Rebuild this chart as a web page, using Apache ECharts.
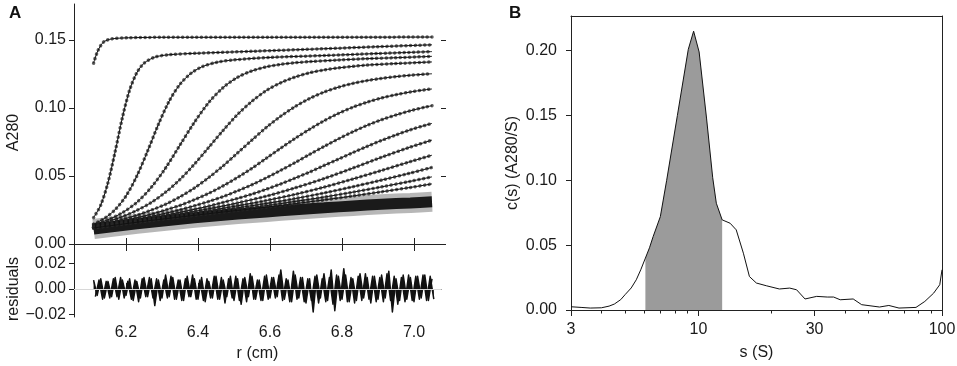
<!DOCTYPE html>
<html>
<head>
<meta charset="utf-8">
<script src="https://cdn.jsdelivr.net/npm/echarts@6.0.0/dist/echarts.min.js"></script>
<style>
  html, body { margin: 0; padding: 0; background: #fff; }
  #chart { width: 957px; height: 366px; }
</style>
</head>
<body>
<div id="chart"></div>
<script>
// ---- panel A: radial scans (r in cm, A280) ----
const rTicks = [6.2, 6.4, 6.6, 6.8, 7.0];
const a280Ticks = [0, 0.05, 0.1, 0.15];
const residualTicks = [-0.02, 0, 0.02];

// slow / non-sedimenting floor that all late scans collapse onto
const baseline = [[6.11, 0.011], [6.19, 0.0136], [6.27, 0.016], [6.35, 0.0182], [6.43, 0.0202], [6.51, 0.022],
  [6.59, 0.0236], [6.67, 0.0252], [6.75, 0.0266], [6.83, 0.028], [6.91, 0.0292], [6.99, 0.0302], [7.05, 0.031]];

// fitted boundaries, one per scan
const fitScans = [
  [[6.11, 0.133], [6.12, 0.141], [6.13, 0.146], [6.14, 0.149], [6.16, 0.1508], [6.2, 0.1516], [6.3, 0.152], [6.6, 0.152], [7.05, 0.1522]],
  [[6.11, 0.0194], [6.13, 0.0287], [6.15, 0.0451], [6.17, 0.068], [6.19, 0.0929], [6.21, 0.1131], [6.23, 0.1259], [6.25, 0.1329], [6.28, 0.1374], [6.32, 0.1392], [6.4, 0.1403], [6.55, 0.1417], [6.75, 0.1436], [6.9, 0.1451], [7.05, 0.1465]],
  [[6.11, 0.0146], [6.14, 0.0188], [6.17, 0.0253], [6.2, 0.0353], [6.23, 0.0499], [6.26, 0.0683], [6.29, 0.0879], [6.32, 0.1051], [6.35, 0.1175], [6.38, 0.1254], [6.41, 0.1302], [6.45, 0.1335], [6.5, 0.1354], [6.6, 0.1372], [6.75, 0.1386], [6.9, 0.1401], [7.05, 0.1415]],
  [[6.11, 0.0142], [6.15, 0.0178], [6.19, 0.023], [6.23, 0.0306], [6.27, 0.0416], [6.31, 0.0559], [6.35, 0.0728], [6.39, 0.0895], [6.43, 0.1041], [6.47, 0.1151], [6.51, 0.1226], [6.55, 0.1273], [6.59, 0.1303], [6.63, 0.1321], [6.67, 0.1333], [6.71, 0.1341], [6.79, 0.1353], [6.87, 0.1363], [6.95, 0.137], [7.05, 0.138]],
  [[6.11, 0.0139], [6.15, 0.0166], [6.19, 0.0201], [6.23, 0.0247], [6.27, 0.0305], [6.31, 0.0381], [6.35, 0.0475], [6.39, 0.0587], [6.43, 0.0711], [6.47, 0.0836], [6.51, 0.0953], [6.55, 0.105], [6.59, 0.1129], [6.63, 0.1186], [6.67, 0.1228], [6.71, 0.1259], [6.75, 0.128], [6.79, 0.1295], [6.83, 0.1306], [6.87, 0.1316], [6.95, 0.1327], [7.05, 0.1339]],
  [[6.11, 0.0133], [6.15, 0.0155], [6.19, 0.0181], [6.23, 0.0211], [6.27, 0.0249], [6.31, 0.0292], [6.35, 0.0347], [6.39, 0.0412], [6.43, 0.0489], [6.47, 0.0575], [6.51, 0.067], [6.55, 0.0765], [6.59, 0.0858], [6.63, 0.094], [6.67, 0.1011], [6.71, 0.107], [6.75, 0.1117], [6.79, 0.1153], [6.83, 0.1181], [6.87, 0.1202], [6.91, 0.1218], [6.95, 0.1231], [6.99, 0.1241], [7.03, 0.1249], [7.05, 0.1252]],
  [[6.11, 0.0129], [6.15, 0.0148], [6.19, 0.017], [6.23, 0.0193], [6.27, 0.0219], [6.31, 0.025], [6.35, 0.0284], [6.39, 0.0326], [6.43, 0.0373], [6.47, 0.0428], [6.51, 0.049], [6.55, 0.0557], [6.59, 0.0631], [6.63, 0.0705], [6.67, 0.0777], [6.71, 0.0844], [6.75, 0.0906], [6.79, 0.096], [6.83, 0.1006], [6.87, 0.1043], [6.91, 0.1074], [6.95, 0.1098], [6.99, 0.1118], [7.03, 0.1134], [7.05, 0.114]],
  [[6.11, 0.0126], [6.15, 0.0144], [6.19, 0.0162], [6.23, 0.0182], [6.27, 0.0203], [6.31, 0.0226], [6.35, 0.0252], [6.39, 0.0281], [6.43, 0.0313], [6.47, 0.0349], [6.51, 0.0391], [6.55, 0.0436], [6.59, 0.0487], [6.63, 0.0542], [6.67, 0.0599], [6.71, 0.0659], [6.75, 0.0717], [6.79, 0.0773], [6.83, 0.0825], [6.87, 0.0873], [6.91, 0.0914], [6.95, 0.0949], [6.99, 0.098], [7.03, 0.1006], [7.05, 0.1017]],
  [[6.11, 0.0124], [6.15, 0.014], [6.19, 0.0158], [6.23, 0.0175], [6.27, 0.0193], [6.31, 0.0212], [6.35, 0.0233], [6.39, 0.0255], [6.43, 0.0279], [6.47, 0.0306], [6.51, 0.0335], [6.55, 0.0367], [6.59, 0.0403], [6.63, 0.0442], [6.67, 0.0485], [6.71, 0.0529], [6.75, 0.0577], [6.79, 0.0624], [6.83, 0.0672], [6.87, 0.0718], [6.91, 0.0762], [6.95, 0.0802], [6.99, 0.084], [7.03, 0.0872], [7.05, 0.0887]],
  [[6.11, 0.0122], [6.19, 0.0154], [6.27, 0.0187], [6.35, 0.0221], [6.43, 0.0259], [6.51, 0.0302], [6.59, 0.0352], [6.67, 0.0413], [6.75, 0.0481], [6.83, 0.0558], [6.91, 0.0638], [6.99, 0.0713], [7.05, 0.0764]],
  [[6.11, 0.0121], [6.19, 0.0152], [6.27, 0.0182], [6.35, 0.0213], [6.43, 0.0245], [6.51, 0.0281], [6.59, 0.032], [6.67, 0.0365], [6.75, 0.0418], [6.83, 0.0478], [6.91, 0.0541], [6.99, 0.0606], [7.05, 0.0653]],
  [[6.11, 0.012], [6.19, 0.0149], [6.27, 0.0178], [6.35, 0.0207], [6.43, 0.0236], [6.51, 0.0266], [6.59, 0.0298], [6.67, 0.0334], [6.75, 0.0375], [6.83, 0.0421], [6.91, 0.047], [6.99, 0.0522], [7.05, 0.0563]],
  [[6.11, 0.0119], [6.19, 0.0147], [6.27, 0.0175], [6.35, 0.0202], [6.43, 0.0229], [6.51, 0.0255], [6.59, 0.0282], [6.67, 0.0313], [6.75, 0.0345], [6.83, 0.0381], [6.91, 0.042], [6.99, 0.0461], [7.05, 0.0494]],
  [[6.11, 0.0118], [6.19, 0.0146], [6.27, 0.0173], [6.35, 0.0198], [6.43, 0.0223], [6.51, 0.0247], [6.59, 0.0271], [6.67, 0.0297], [6.75, 0.0324], [6.83, 0.0353], [6.91, 0.0384], [6.99, 0.0416], [7.05, 0.0442]]
];

// residuals of two interleaved scans, sampled every 0.01 cm
const residualStep = 0.01;
const residualStartA = 6.11;
const residualsA = [0.007, -0.005, 0.008, -0.007, 0.006, -0.006, 0.009, -0.008, 0.007, -0.005,
  0.008, -0.009, 0.006, -0.007, 0.009, -0.006, 0.008, -0.013, 0.007, -0.007,
  0.011, -0.006, 0.009, -0.008, 0.007, -0.009, 0.010, -0.006, 0.008, -0.008,
  0.009, -0.010, 0.006, -0.007, 0.010, -0.008, 0.007, -0.006, 0.010, -0.009,
  0.008, -0.012, 0.009, -0.006, 0.010, -0.008, 0.007, -0.009, 0.011, -0.007,
  0.009, -0.006, 0.015, -0.008, 0.007, -0.010, 0.011, -0.007, 0.009, -0.011,
  0.008, -0.018, 0.011, -0.007, 0.012, -0.009, 0.015, -0.017, 0.010, -0.008,
  0.011, -0.010, 0.008, -0.009, 0.012, -0.007, 0.009, -0.011, 0.010, -0.008,
  0.011, -0.007, 0.014, -0.018, 0.008, -0.009, 0.011, -0.008, 0.009, -0.010,
  0.010, -0.007, 0.011, -0.009, 0.008];
const residualStartB = 6.115;
const residualsB = [-0.006, 0.007, -0.008, 0.006, -0.007, 0.008, -0.006, 0.009, -0.007, 0.006,
  -0.008, 0.007, -0.010, 0.008, -0.006, 0.009, -0.007, 0.008, -0.009, 0.007,
  -0.007, 0.010, -0.008, 0.007, -0.009, 0.008, -0.006, 0.011, -0.008, 0.007,
  -0.009, 0.008, -0.007, 0.010, -0.008, 0.009, -0.011, 0.008, -0.007, 0.010,
  -0.009, 0.008, -0.010, 0.012, -0.008, 0.007, -0.009, 0.010, -0.008, 0.009,
  -0.007, 0.011, -0.009, 0.008, -0.010, 0.014, -0.008, 0.009, -0.010, 0.008,
  -0.009, 0.010, -0.011, 0.008, -0.010, 0.009, -0.012, 0.011, -0.009, 0.016,
  -0.010, 0.009, -0.011, 0.010, -0.009, 0.012, -0.008, 0.010, -0.010, 0.009,
  -0.010, 0.012, -0.009, 0.010, -0.012, 0.009, -0.010, 0.011, -0.009, 0.010,
  -0.008, 0.011, -0.009, 0.010, -0.008];

// ---- panel B: c(s) distribution ----
const sValues = [3.0, 3.3, 3.6, 4.0, 4.3, 4.52, 4.8, 5.0, 5.3, 5.56,
  5.8, 6.06, 6.3, 6.52, 6.98, 7.41, 8.2, 9.09, 9.56, 10.07,
  10.8, 11.45, 11.85, 12.52, 13.5, 14.3, 15.3, 16.2, 17.3, 19.0,
  21.5, 23.7, 25.3, 27.4, 30.6, 33.8, 35.9, 38.2, 43.2, 46.8,
  55.4, 60.5, 66.6, 78.2, 85.0, 92.4, 97.9, 100];
const cValues = [0.0025, 0.002, 0.0015, 0.0017, 0.003, 0.0046, 0.008, 0.0118, 0.017, 0.0233,
  0.031, 0.040, 0.048, 0.0566, 0.072, 0.100, 0.150, 0.201, 0.215, 0.199,
  0.148, 0.102, 0.0823, 0.0695, 0.0669, 0.0618, 0.0438, 0.0258, 0.0208, 0.0187,
  0.0162, 0.0169, 0.0156, 0.0085, 0.0105, 0.010, 0.010, 0.0079, 0.0085, 0.0041,
  0.0023, 0.0035, 0.0015, 0.002, 0.0066, 0.013, 0.0195, 0.031];
const shadeFrom = 6.06;
const shadeTo = 12.52;
const sMajor = [3, 10, 30, 100];
const sMinor = [3, 4, 5, 6, 7, 8, 9, 10, 20, 30, 40, 50, 60, 70, 80, 90, 100];
const cTicks = [0, 0.05, 0.1, 0.15, 0.2];

const FONT = "Liberation Sans";
const INK = "#1a1a1a";

const chart = echarts.init(document.getElementById("chart"));

const residualDataA = residualsA.map((v, i) => [residualStartA + i * residualStep, v]);
const residualDataB = residualsB.map((v, i) => [residualStartB + i * residualStep, v]);
const sedData = sValues.map((s, i) => [s, cValues[i]]);
const shadeData = sedData.filter((d) => d[0] >= shadeFrom && d[0] <= shadeTo);

const fmt2 = (v) => Number(v).toFixed(2).replace("-", "\u2212");
const labelStyle = { color: INK, fontFamily: FONT, fontSize: 16 };
const nameStyle = { color: INK, fontFamily: FONT, fontSize: 16 };
const lineStyle = { color: "#222", width: 1 };

const scanSeries = [];
fitScans.forEach((scan) => {
  // raw points scattered along each fit
  scanSeries.push({
    type: "line", xAxisIndex: 0, yAxisIndex: 0, data: scan,
    smooth: 0.3, showSymbol: false, silent: true,
    lineStyle: { color: "rgba(40,40,40,0.75)", width: 3.5, type: [0.1, 4.6], cap: "round" },
  });
  scanSeries.push({
    type: "line", xAxisIndex: 0, yAxisIndex: 0, data: scan,
    smooth: 0.3, showSymbol: false, silent: true,
    lineStyle: { color: "#111", width: 1 },
  });
});

const residualSeries = [residualDataA, residualDataB].map((data) => ({
  type: "line", xAxisIndex: 2, yAxisIndex: 2, data,
  showSymbol: false, silent: true,
  lineStyle: { color: "#111", width: 1.5, join: "round" },
  areaStyle: { color: "#111", opacity: 1 },
  z: 3,
}));
residualSeries[0].markLine = {
  silent: true, symbol: "none", label: { show: false },
  lineStyle: { color: "#d8d8d8", width: 1, type: "solid" },
  data: [{ yAxis: 0 }],
};

const option = {
  animation: false,
  backgroundColor: "#fff",
  title: [
    { text: "A", left: 4, top: 0, textStyle: { fontFamily: FONT, fontSize: 17, fontWeight: "bold", color: "#111" } },
    { text: "B", left: 504, top: 0, textStyle: { fontFamily: FONT, fontSize: 17, fontWeight: "bold", color: "#111" } },
  ],
  grid: [
    { left: 74, top: 4, width: 367, height: 257, containLabel: false, outerBoundsMode: "none" },
    { left: 74, top: 261, width: 367, height: 56, containLabel: false, outerBoundsMode: "none" },
    { left: 571, top: 16, width: 371, height: 294, containLabel: false, outerBoundsMode: "none" },
  ],
  xAxis: [
    {
      gridIndex: 0, type: "value", min: 6.0556, max: 7.075, position: "bottom",
      axisLine: { show: true, lineStyle }, splitLine: { show: false },
      axisTick: { show: true, inside: true, length: 6, customValues: rTicks, lineStyle },
      axisLabel: { show: false },
    },
    {
      gridIndex: 0, type: "value", min: 6.0556, max: 7.075, position: "top",
      axisLine: { show: true, lineStyle }, splitLine: { show: false },
      axisTick: { show: true, inside: true, length: 7, customValues: rTicks, lineStyle },
      axisLabel: { show: false },
    },
    {
      gridIndex: 1, type: "value", min: 6.0556, max: 7.075, position: "bottom",
      axisLine: { show: true, lineStyle }, splitLine: { show: false },
      axisTick: { show: true, inside: true, length: 6, customValues: rTicks, lineStyle },
      axisLabel: { show: true, margin: 8, customValues: rTicks, formatter: (v) => Number(v).toFixed(1), ...labelStyle },
      name: "r (cm)", nameLocation: "middle", nameGap: 29, nameTextStyle: nameStyle,
    },
    {
      gridIndex: 2, type: "log", logBase: 10, min: 3, max: 100, position: "bottom",
      axisLine: { show: true, lineStyle }, splitLine: { show: false },
      axisTick: { show: true, inside: false, length: 3.5, customValues: sMinor, lineStyle },
      axisLabel: { show: false },
    },
    {
      gridIndex: 2, type: "log", logBase: 10, min: 3, max: 100, position: "bottom",
      axisLine: { show: true, lineStyle }, splitLine: { show: false },
      axisTick: { show: true, inside: false, length: 6, customValues: sMajor, lineStyle },
      axisLabel: { show: true, margin: 12, customValues: sMajor, formatter: (v) => String(Math.round(v)), ...labelStyle },
      name: "s (S)", nameLocation: "middle", nameGap: 35, nameTextStyle: nameStyle,
    },
    {
      gridIndex: 2, type: "log", logBase: 10, min: 3, max: 100, position: "top",
      axisLine: { show: true, lineStyle }, splitLine: { show: false },
      axisTick: { show: false }, axisLabel: { show: false },
    },
  ],
  yAxis: [
    {
      gridIndex: 0, type: "value", min: -0.0125, max: 0.1765, position: "left",
      axisLine: { show: true, lineStyle }, splitLine: { show: false },
      axisTick: { show: true, length: 5, customValues: a280Ticks, lineStyle },
      axisLabel: { show: true, margin: 8, customValues: a280Ticks, formatter: fmt2, ...labelStyle },
      name: "A280", nameLocation: "middle", nameGap: 52, nameTextStyle: nameStyle,
    },
    {
      gridIndex: 0, type: "value", min: -0.0125, max: 0.1765, position: "right",
      axisLine: { show: false }, splitLine: { show: false },
      axisTick: { show: true, length: 5, customValues: a280Ticks, lineStyle },
      axisLabel: { show: false },
    },
    {
      gridIndex: 1, type: "value", min: -0.022, max: 0.022, position: "left",
      axisLine: { show: true, lineStyle }, splitLine: { show: false },
      axisTick: { show: true, length: 5, customValues: residualTicks, lineStyle },
      axisLabel: { show: true, margin: 8, customValues: residualTicks, formatter: fmt2, ...labelStyle },
      name: "residuals", nameLocation: "middle", nameGap: 52, nameTextStyle: nameStyle,
    },
    {
      gridIndex: 2, type: "value", min: 0, max: 0.2267, position: "left",
      axisLine: { show: true, lineStyle }, splitLine: { show: false },
      axisTick: { show: true, length: 5, customValues: cTicks, lineStyle },
      axisLabel: { show: true, margin: 14, customValues: cTicks, formatter: fmt2, ...labelStyle },
      name: "c(s) (A280/S)", nameLocation: "middle", nameGap: 50, nameTextStyle: nameStyle,
    },
    {
      gridIndex: 2, type: "value", min: 0, max: 0.2267, position: "right",
      axisLine: { show: true, lineStyle }, splitLine: { show: false },
      axisTick: { show: false }, axisLabel: { show: false },
    },
  ],
  series: [
    {
      type: "line", xAxisIndex: 0, yAxisIndex: 0, data: baseline, smooth: 0.3,
      showSymbol: false, silent: true,
      lineStyle: { color: "rgba(50,50,50,0.35)", width: 20, cap: "butt" },
    },
    {
      type: "line", xAxisIndex: 0, yAxisIndex: 0, data: baseline, smooth: 0.3,
      showSymbol: false, silent: true,
      lineStyle: { color: "#1a1a1a", width: 11, cap: "butt" },
    },
    ...scanSeries,
    ...residualSeries,
    {
      type: "line", xAxisIndex: 4, yAxisIndex: 3, data: shadeData,
      showSymbol: false, silent: true,
      lineStyle: { width: 0 },
      areaStyle: { color: "#9b9b9b", opacity: 1 },
    },
    {
      type: "line", xAxisIndex: 4, yAxisIndex: 3, data: sedData,
      showSymbol: false, silent: true,
      lineStyle: { color: "#111", width: 1 },
    },
  ],
};

chart.setOption(option);
</script>
</body>
</html>
